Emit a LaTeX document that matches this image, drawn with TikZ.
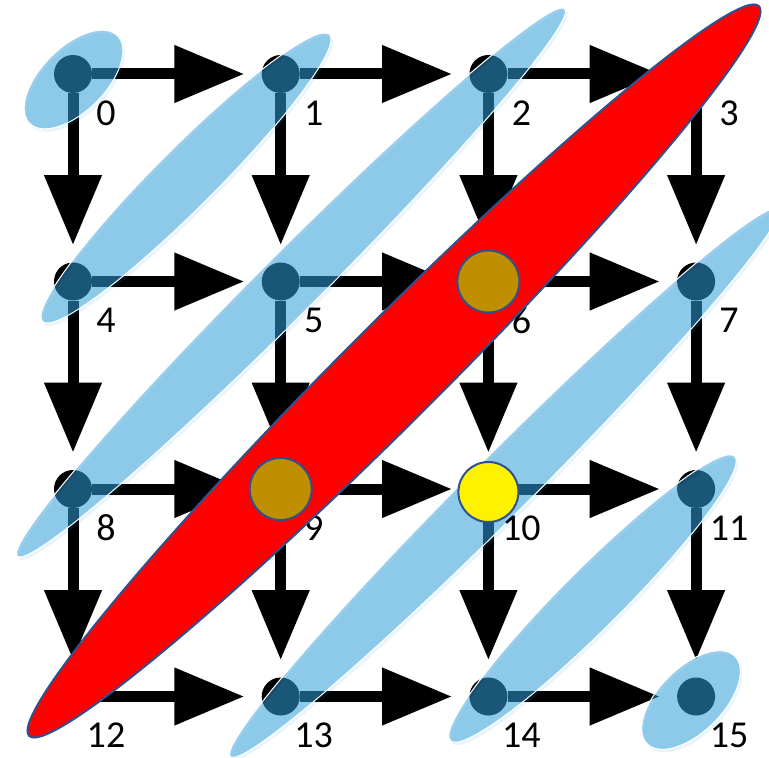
\documentclass[tikz,border=0pt]{standalone}
\usepackage{fontspec}
\setmainfont{Carlito}
\usetikzlibrary{arrows.meta,shapes.geometric,shadows}

\definecolor{grpblue}{RGB}{49,157,216}
\definecolor{edgeblue}{RGB}{47,82,143}
\definecolor{ochre}{RGB}{191,143,0}

\begin{document}
\begin{tikzpicture}[
  x=0.5pt, y=-0.5pt,
  dot/.style={circle, fill=black, inner sep=0pt, minimum size=19pt},
  arr/.style={-{Triangle[length=35pt,width=27.5pt]}, line width=5.5pt, shorten >=8.5pt},
  lbl/.style={font=\fontsize{19}{22}\selectfont, inner sep=0pt},
  grp/.style={ellipse, rotate=45, inner sep=0pt, minimum height=30pt, fill=grpblue, fill opacity=0.5,
    draw=white, line width=0.5pt,
    drop shadow={shadow xshift=1pt, shadow yshift=-1.5pt, fill=grpblue, draw=none, opacity=0.1}},
  diag/.style={ellipse, rotate=45, inner sep=0pt, fill=red, draw=edgeblue, line width=1pt},
  pick/.style={circle, inner sep=0pt, minimum size=31pt, draw=edgeblue, line width=1pt}
]
\useasboundingbox (0,0) rectangle (769,758);

% 4x4 grid of states
\foreach \i in {0,...,15}{
  \pgfmathtruncatemacro\c{mod(\i,4)}
  \pgfmathtruncatemacro\r{int(\i/4)}
  \node[dot] (n\i) at (73+207.7*\c, 74+207.5*\r) {};
}

\foreach \i in {0,...,15}{
  \pgfmathtruncatemacro\c{mod(\i,4)}
  \pgfmathtruncatemacro\r{int(\i/4)}
  \pgfmathtruncatemacro\j{\i+1}
  \pgfmathtruncatemacro\k{\i+4}
  \ifnum\c<3 \draw[arr] (n\i) -- (n\j); \fi
  \ifnum\r<3 \draw[arr] (n\i) -- (n\k); \fi
}

% anti-diagonal groups
\node[grp, minimum width=62pt, minimum height=32pt] (g0) at (73.5,79.5) {};
\node[grp, minimum width=203pt] (g1) at (186,178) {};
\node[grp, minimum width=387pt] (g2) at (291,282.5) {};
\node[grp, minimum width=387pt] (g4) at (504,483) {};
\node[grp, minimum width=201pt] (g5) at (592.5,598.5) {};
\node[grp, minimum width=62pt, minimum height=32pt] (g6) at (691,700) {};

\foreach \i in {0,...,15}
  \node[lbl] (t\i) at ([shift={(33,39)}]n\i) {\i};

\node[diag, minimum width=516pt, minimum height=49pt] (g3) at (394,371) {};

\node[pick, fill=ochre] (p6) at (n6) {};
\node[pick, fill=ochre] (p9) at (n9) {};
\node[pick, fill=yellow, minimum size=30pt] (p10) at ([yshift=-1.5pt]n10) {};
\end{tikzpicture}
\end{document}
